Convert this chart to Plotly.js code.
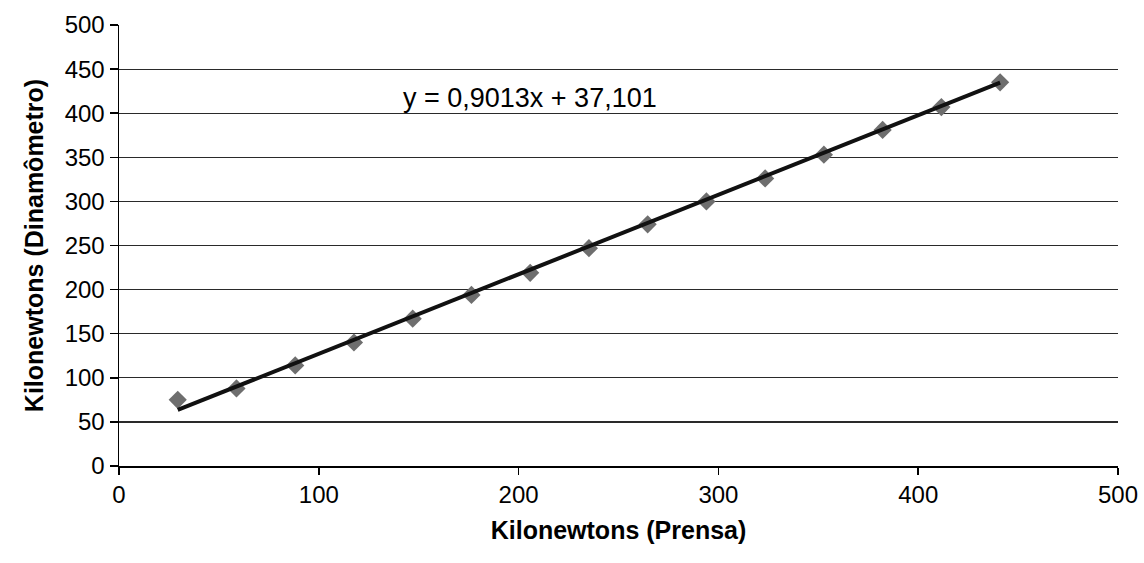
<!DOCTYPE html>
<html>
<head>
<meta charset="utf-8">
<script src="https://cdn.plot.ly/plotly-3.0.1.min.js"></script>
<style>html,body{margin:0;padding:0;background:#fff;}#chart{width:1144px;height:563px;}</style>
</head>
<body>
<div id="chart"></div>
<script>
// Data
const prensa = [29.4, 58.8, 88.2, 117.6, 147, 176.4, 205.8, 235.2, 264.6, 294, 323.4, 352.8, 382.2, 411.6, 441];
const dinamometro = [75, 88, 114, 140, 167, 194, 219, 247, 274, 300, 326, 353, 381, 407, 435];
const slope = 0.9013;
const intercept = 37.101;
const equationLabel = "y = 0,9013x + 37,101";
const xTicks = [0, 100, 200, 300, 400, 500];
const yTicks = [0, 50, 100, 150, 200, 250, 300, 350, 400, 450, 500];

const xMin = Math.min(...prensa), xMax = Math.max(...prensa);
const trendX = [xMin, xMax];
const trendY = trendX.map(x => slope * x + intercept);

const font = {family: "Liberation Sans, Arial, sans-serif", color: "#000"};
const f = s => Object.assign({size: s}, font);

const data = [
  {x: prensa, y: dinamometro, type: "scatter", mode: "markers",
   marker: {symbol: "diamond", size: 14, color: "#6e6e6e", line: {width: 0}}, showlegend: false},
  {x: trendX, y: trendY, type: "scatter", mode: "lines",
   line: {color: "#111", width: 4}, showlegend: false}
];

const layout = {
  width: 1144, height: 563,
  margin: {l: 119, r: 26, t: 25, b: 97},
  paper_bgcolor: "#fff", plot_bgcolor: "#fff",
  font: f(24),
  xaxis: {
    range: [0, 500], tickvals: xTicks, ticktext: xTicks.map(String),
    showgrid: false, zeroline: false,
    showline: true, linecolor: "#000", linewidth: 1.5,
    ticks: "outside", ticklen: 7, tickcolor: "#000", tickwidth: 1.5,
    tickfont: f(24),
    title: {text: "<b>Kilonewtons (Prensa)</b>", font: f(25), standoff: 14}
  },
  yaxis: {
    range: [0, 500], tickvals: yTicks, ticktext: yTicks.map(String),
    showgrid: true, gridcolor: "#2a2a2a", gridwidth: 1.2, zeroline: false,
    showline: true, linecolor: "#000", linewidth: 1.5,
    ticks: "outside", ticklen: 8, tickcolor: "#000", tickwidth: 1.5,
    tickfont: f(24),
    title: {text: "<b>Kilonewtons (Dinamômetro)</b>", font: f(25), standoff: 14}
  },
  annotations: [{
    x: 141, y: 417, xref: "x", yref: "y", xanchor: "left", yanchor: "middle",
    text: equationLabel, showarrow: false, font: f(27)
  }]
};

Plotly.newPlot("chart", data, layout, {displayModeBar: false, staticPlot: true});
</script>
</body>
</html>
